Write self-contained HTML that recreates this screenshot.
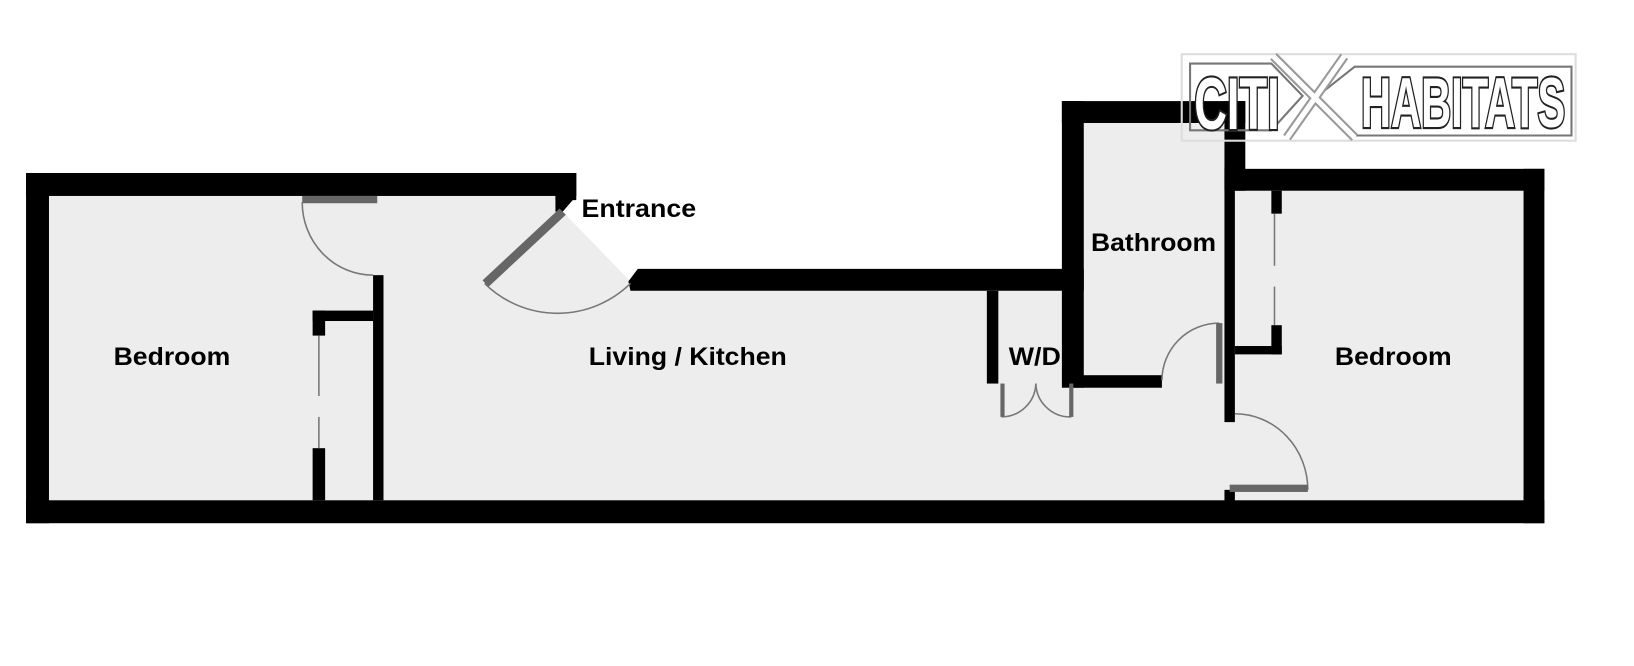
<!DOCTYPE html>
<html><head><meta charset="utf-8"><style>
html,body{margin:0;padding:0;background:#fff;}
svg{display:block;}
text{font-family:"Liberation Sans",sans-serif;font-weight:bold;}
</style></head><body>
<svg width="1634" height="666" viewBox="0 0 1568 639" preserveAspectRatio="none" xmlns="http://www.w3.org/2000/svg">
<rect width="1568" height="639" fill="#fff"/>
<!-- interior fills -->
<rect x="47" y="188" width="1415" height="292" fill="#ededed"/>
<polygon points="553,160 1019,160 1019,258 612,258 605,270 540,203 553,188" fill="#fff"/>
<rect x="1040" y="118" width="135" height="250" fill="#ededed"/>
<rect x="1185" y="183" width="277" height="297" fill="#ededed"/>
<rect x="1040" y="160" width="135" height="100" fill="#ededed"/>
<!-- walls -->
<g fill="#000">
<rect x="25" y="166" width="528" height="22"/>
<rect x="533" y="166" width="20" height="26"/>
<polygon points="533,188 553,188 540,203 533,203"/>
<rect x="25" y="166" width="22" height="336"/>
<rect x="25" y="480" width="1457" height="22"/>
<rect x="1462" y="162" width="20" height="340"/>
<rect x="1175" y="162" width="307" height="21"/>
<polygon points="612,258 1040,258 1040,279 605,279 603,270"/>
<rect x="1019" y="97" width="21" height="275"/>
<rect x="1019" y="97" width="176" height="21"/>
<rect x="1175" y="97" width="20" height="86"/>
<rect x="1175" y="160" width="10" height="245"/>
<rect x="1175" y="470" width="10" height="12"/>
<rect x="1030" y="360" width="85" height="12"/>
<rect x="947" y="279" width="11" height="89"/>
<rect x="1220" y="183" width="10" height="22"/>
<rect x="1220" y="312" width="10" height="28"/>
<rect x="1185" y="332" width="45" height="8"/>
<rect x="358" y="264" width="10" height="216"/>
<rect x="300" y="298" width="58" height="10"/>
<rect x="300" y="298" width="12" height="24"/>
<rect x="300" y="430" width="12" height="50"/>
</g>
<!-- thin lines / wardrobe sliding -->
<g stroke="#777" stroke-width="1.5" fill="none">
<line x1="306" y1="322" x2="306" y2="380"/>
<line x1="306" y1="400" x2="306" y2="430"/>
<line x1="1223" y1="205" x2="1223" y2="255"/>
<line x1="1223" y1="275" x2="1223" y2="312"/>
<path d="M290,194 A68,70 0 0 0 358,264"/>
<path d="M465,272 A100,100 0 0 0 605,272"/>
<path d="M1115,365 A55,55 0 0 1 1170,310"/>
<path d="M1185,397 A70,73 0 0 1 1255,470"/>
<path d="M961,400 A33,33 0 0 0 994,368"/>
<path d="M1028,400 A33,33 0 0 1 994,368"/>
</g>
<!-- door leaves -->
<g fill="#666">
<rect x="290" y="188" width="72" height="7"/>
<polygon points="537,200 543,206 469,275 463,269"/>
<rect x="1167" y="310" width="6" height="58"/>
<rect x="1180" y="465" width="75" height="7"/>
<rect x="960" y="368" width="4" height="32"/>
<rect x="1026" y="368" width="4" height="32"/>
</g>
<!-- labels -->
<g font-size="24" fill="#000">
<text x="165" y="350" text-anchor="middle" textLength="112" lengthAdjust="spacingAndGlyphs">Bedroom</text>
<text x="660" y="350" text-anchor="middle" textLength="190" lengthAdjust="spacingAndGlyphs">Living / Kitchen</text>
<text x="613" y="208" text-anchor="middle" textLength="110" lengthAdjust="spacingAndGlyphs">Entrance</text>
<text x="993" y="350" text-anchor="middle" textLength="50" lengthAdjust="spacingAndGlyphs">W/D</text>
<text x="1107" y="241" text-anchor="middle" textLength="120" lengthAdjust="spacingAndGlyphs">Bathroom</text>
<text x="1337" y="350" text-anchor="middle" textLength="112" lengthAdjust="spacingAndGlyphs">Bedroom</text>
</g>
<!-- logo -->
<g>
<rect x="1134" y="52" width="378" height="83" fill="none" stroke="#ddd" stroke-width="2"/>
<polygon points="1142,61 1220,61 1250,92 1220,125 1142,125" fill="none" stroke="#777" stroke-width="2"/>
<polygon points="1508,64 1300,64 1262,94 1300,130 1508,130" fill="none" stroke="#777" stroke-width="2"/>
<path d="M1222,54 L1300,132 M1290,54 L1235,132" stroke="#999" stroke-width="9"/>
<path d="M1222,54 L1300,132 M1290,54 L1235,132" stroke="#fff" stroke-width="5"/>
<text x="1146" y="124" font-size="70" fill="#fff" stroke="#222" stroke-width="4" paint-order="stroke" textLength="82" lengthAdjust="spacingAndGlyphs">CITI</text>
<text x="1306" y="122" font-size="68" fill="#fff" stroke="#222" stroke-width="4" paint-order="stroke" textLength="196" lengthAdjust="spacingAndGlyphs">HABITATS</text>
</g>
</svg>
</body></html>
